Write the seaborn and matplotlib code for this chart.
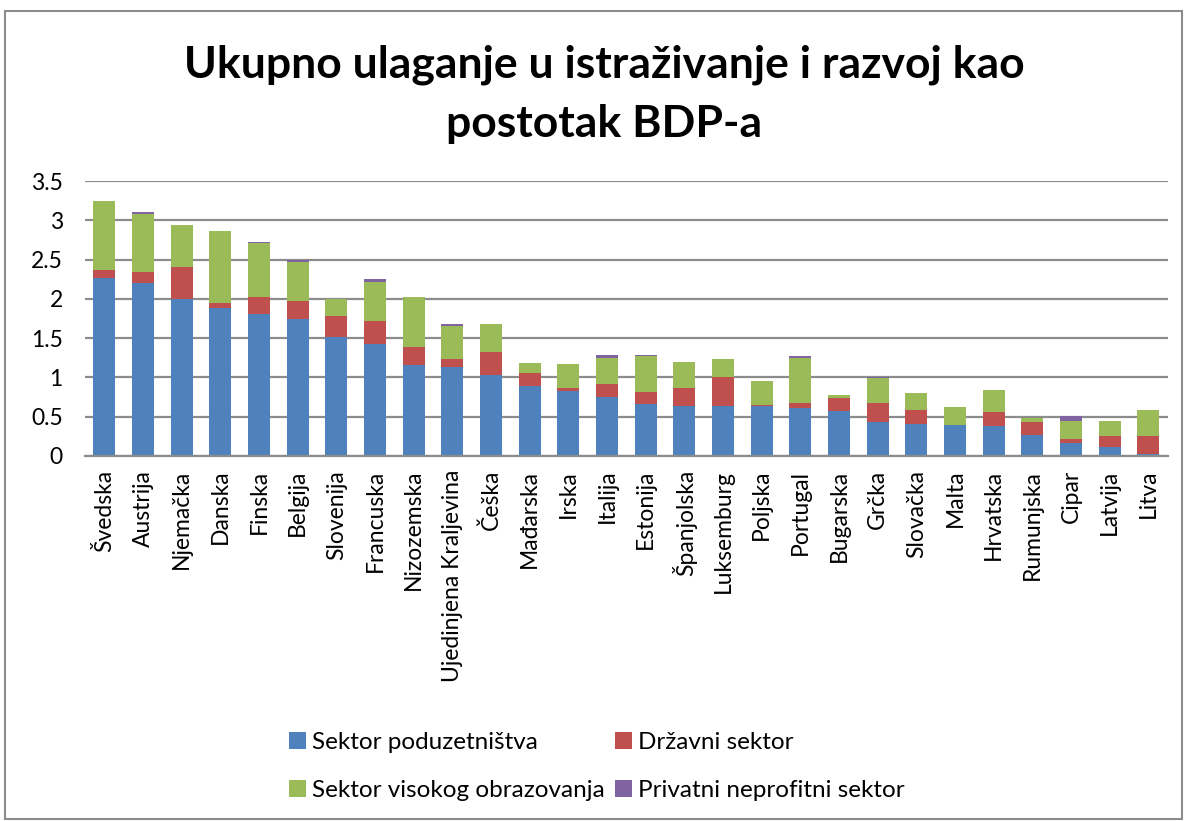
import numpy as np
import pandas as pd
import matplotlib
matplotlib.use("Agg")
import matplotlib.pyplot as plt
from matplotlib.patches import Patch, Rectangle
import seaborn as sns

countries = ["Švedska", "Austrija", "Njemačka", "Danska", "Finska", "Belgija",
             "Slovenija", "Francuska", "Nizozemska", "Ujedinjena Kraljevina",
             "Češka", "Mađarska", "Irska", "Italija", "Estonija", "Španjolska",
             "Luksemburg", "Poljska", "Portugal", "Bugarska", "Grčka",
             "Slovačka", "Malta", "Hrvatska", "Rumunjska", "Cipar", "Latvija",
             "Litva"]

poduzetnistvo = [2.26, 2.20, 2.00, 1.89, 1.81, 1.74, 1.51, 1.43, 1.16, 1.13,
                 1.03, 0.89, 0.83, 0.75, 0.66, 0.64, 0.64, 0.64, 0.61, 0.57,
                 0.43, 0.41, 0.39, 0.38, 0.27, 0.17, 0.11, 0.03]
drzavni = [0.11, 0.14, 0.40, 0.06, 0.21, 0.23, 0.27, 0.29, 0.23, 0.11,
           0.30, 0.16, 0.04, 0.17, 0.15, 0.22, 0.37, 0.01, 0.07, 0.17,
           0.24, 0.17, 0.01, 0.18, 0.16, 0.05, 0.14, 0.22]
visoko_obraz = [0.87, 0.74, 0.54, 0.92, 0.69, 0.50, 0.22, 0.49, 0.64, 0.42,
                0.35, 0.13, 0.30, 0.33, 0.46, 0.33, 0.23, 0.30, 0.57, 0.04,
                0.32, 0.22, 0.22, 0.28, 0.05, 0.22, 0.20, 0.33]
neprofitni = [0.01, 0.02, 0.00, 0.00, 0.02, 0.02, 0.00, 0.04, 0.00, 0.02,
              0.00, 0.00, 0.00, 0.04, 0.02, 0.00, 0.00, 0.00, 0.02, 0.00,
              0.01, 0.00, 0.00, 0.00, 0.00, 0.07, 0.00, 0.00]

series_names = ["Sektor poduzetništva", "Državni sektor",
                "Sektor visokog obrazovanja", "Privatni neprofitni sektor"]
series_colors = ["#4F81BD", "#C0504D", "#9BBB59", "#8064A2"]

y_ticks = [0, 0.5, 1, 1.5, 2, 2.5, 3, 3.5]
y_labels = ["0", "0.5", "1", "1.5", "2", "2.5", "3", "3.5"]

df = pd.DataFrame({"zemlja": countries,
                   series_names[0]: poduzetnistvo,
                   series_names[1]: drzavni,
                   series_names[2]: visoko_obraz,
                   series_names[3]: neprofitni})

sns.set_style("white")
plt.rcParams["font.family"] = ["Lato", "DejaVu Sans"]
plt.rcParams["text.color"] = "black"
plt.rcParams["xtick.color"] = "black"
plt.rcParams["ytick.color"] = "black"

fig = plt.figure(figsize=(11.89, 8.21), dpi=100)
ax = fig.add_axes([0.0715, 0.4446, 0.9105, 0.3349])

# stacking: draw cumulative totals from the top down so each layer covers the next
cum = df[series_names].cumsum(axis=1)
for name, col in reversed(list(zip(series_names, series_colors))):
    sns.barplot(x=df["zemlja"], y=cum[name], order=countries, color=col,
                saturation=1, width=0.57, linewidth=0, ax=ax)

ax.set_ylim(0, 3.5)
ax.set_xlim(-0.5, len(countries) - 0.5)
ax.set_yticks(y_ticks)
ax.set_yticklabels(y_labels, fontsize=16.5)
ax.set_xticks(range(len(countries)))
ax.set_xticklabels(countries, rotation=90, fontsize=16.5)
ax.tick_params(axis="both", length=0, labelcolor="black")
ax.tick_params(axis="y", pad=16)
ax.tick_params(axis="x", pad=10)
ax.set_xlabel("")
ax.set_ylabel("")

ax.set_axisbelow(True)
ax.yaxis.grid(True, color="#8C8C8C", linewidth=1.6)
for s in ["left", "right", "top"]:
    ax.spines[s].set_visible(False)
ax.spines["bottom"].set_color("#8C8C8C")
ax.spines["bottom"].set_linewidth(1.6)

fig.text(0.508, 0.921, "Ukupno ulaganje u istraživanje i razvoj kao",
         ha="center", va="center", fontsize=32, fontweight="bold", color="black")
fig.text(0.508, 0.849, "postotak BDP-a",
         ha="center", va="center", fontsize=32, fontweight="bold", color="black")

handles = [Patch(facecolor=c, edgecolor="none") for c in series_colors]
order = [0, 2, 1, 3]
leg = fig.legend([handles[i] for i in order], [series_names[i] for i in order],
                 ncol=2, loc="center", bbox_to_anchor=(0.502, 0.066), frameon=False,
                 fontsize=17.5, handlelength=0.7, handleheight=0.7,
                 handletextpad=0.25, columnspacing=0.4, labelspacing=1.1)
for t in leg.get_texts():
    t.set_color("black")

fig.patches.append(Rectangle((0.004, 0.003), 0.99, 0.984, transform=fig.transFigure,
                             fill=False, edgecolor="#8C8C8C", linewidth=1.5))

fig.savefig("out.png", dpi=100)
